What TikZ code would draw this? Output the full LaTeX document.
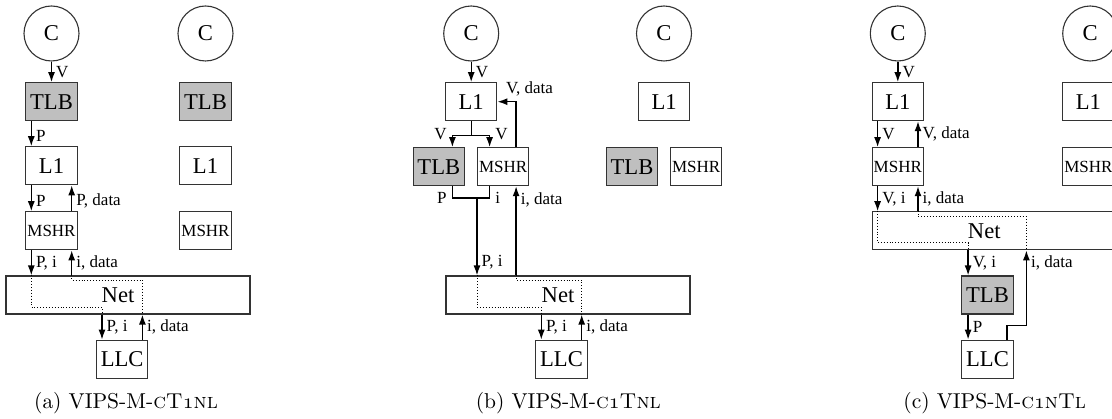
\documentclass[tikz,border=0pt]{standalone}
\usepackage{fontspec}
\newfontfamily\tms{Liberation Serif}
\usetikzlibrary{arrows.meta,calc}
\newcommand\boxfont{\tms\fontsize{22.6}{26}\selectfont}
\newcommand\msfont{\tms\fontsize{17}{20}\selectfont}
\newcommand\lblfont{\tms\fontsize{17}{19}\selectfont}
\font\caprm=cmr10 at 21.5pt
\font\capsc=cmcsc10 at 21.5pt
\font\capos=cmmi10 at 21.5pt
\newcommand\capfont{\caprm}
\newcommand\osone{{\capos\char49}}
\begin{document}
\begin{tikzpicture}[x=1pt,y=-1pt,
 bx/.style={draw=black!80, line width=1.1pt, minimum width=51.3pt, minimum height=38pt, inner sep=0pt, font=\boxfont},
 tlbbox/.style={bx, fill=black!25},
 msbox/.style={bx, font=\msfont},
 cpu/.style={circle, draw=black!80, line width=1.1pt, minimum size=55pt, inner sep=0pt, font=\boxfont},
 netbox/.style={bx, minimum width=244pt},
 nettext/.style={font=\boxfont, inner sep=0pt},
 arr/.style={line width=1.4pt, -{Latex[length=10pt,width=7pt]}},
 wire/.style={line width=1.4pt},
 dots/.style={dotted, line width=0.9pt},
 lbl/.style={font=\lblfont, inner sep=1pt},
 lblr/.style={lbl, anchor=west, xshift=3pt},
 capt/.style={font=\capfont, inner sep=0pt}
]
\useasboundingbox (0,0) rectangle (1112,419);
\clip (0,0) rectangle (1112,419);

% ---------------- panel (a)
\node[cpu] (ca) at (51.5,33.5) {C};
\node[tlbbox] (tlba) at (51.5,101.7) {TLB};
\node[bx] (l1a) at (51.5,165.8) {L1};
\node[msbox] (msa) at (51.5,230.8) {MSHR};
\node[netbox] (neta) at (128,295) {};
\node[nettext] (netat) at ([xshift=-10pt]neta.center) {Net};
\node[bx] (llca) at (122.2,359.2) {LLC};

\node[cpu] (ca2) at (205.5,33.5) {C};
\node[tlbbox] (tlba2) at (205.5,101.7) {TLB};
\node[bx] (l1a2) at (205.5,165.8) {L1};
\node[msbox] (msa2) at (205.5,230.8) {MSHR};

\coordinate (aL) at ([xshift=6pt]tlba.south west);
\coordinate (aR) at ([xshift=-6pt]tlba.south east);
\coordinate (aLL) at ([xshift=6pt]llca.north west);
\coordinate (aLR) at ([xshift=-6pt]llca.north east);

\draw[arr] (ca) -- node[lblr]{V} (tlba);
\draw[arr] (aL) -- node[lblr, pos=0.6]{P} (aL |- l1a.north);
\draw[arr] (aL |- l1a.south) -- node[lblr, pos=0.6]{P} (aL |- msa.north);
\draw[arr] (aR |- msa.north) -- node[lblr, pos=0.4]{P, data} (aR |- l1a.south);
\draw[arr] (aL |- msa.south) -- node[lblr]{P, i} (aL |- neta.north);
\draw[arr] (aR |- neta.north) -- node[lblr]{i, data} (aR |- msa.south);
\draw[arr] (aLL |- neta.south) -- node[lblr]{P, i} (aLL);
\draw[arr] (aLR) -- node[lblr]{i, data} (aLR |- neta.south);
\draw[dots] (aL |- neta.north) -- ++(0,31.7) -| (aLL |- neta.south);
\draw[dots] (aR |- neta.north) -- ++(0,4.7) -| (aLR |- neta.south);

\node[capt] (capa) at (126,403) {(a) VIPS-M-{\capsc cT\osone nl}};

% ---------------- panel (b)
\node[cpu] (cb) at (471.2,33.5) {C};
\node[bx] (l1b) at (471.2,101.7) {L1};
\node[tlbbox] (tlbb) at (438.8,166.7) {TLB};
\node[msbox] (msb) at (503.2,166.7) {MSHR};
\node[netbox] (netb) at (568,295) {};
\node[nettext] (netbt) at ([xshift=-10pt]netb.center) {Net};
\node[bx] (llcb) at (561.5,359.2) {LLC};

\node[cpu] (cb2) at (664,33.5) {C};
\node[bx] (l1b2) at (664.2,101.7) {L1};
\node[tlbbox] (tlbb2) at (632,166.7) {TLB};
\node[msbox] (msb2) at (696.2,166.7) {MSHR};

\coordinate (bf) at ([yshift=-14.3pt]l1b.south);
\coordinate (btl) at ([xshift=-12.6pt]tlbb.north east);
\coordinate (bms) at ([xshift=12.6pt]msb.north west);
\coordinate (bmr) at ([xshift=-13.3pt]msb.north east);
\coordinate (bbl) at ([xshift=-12.6pt]tlbb.south east);
\coordinate (bbm) at ([xshift=12.6pt]msb.south west);
\coordinate (bLL) at ([xshift=6pt]llcb.north west);
\coordinate (bLR) at ([xshift=-6pt]llcb.north east);

\draw[arr] (cb) -- node[lblr]{V} (l1b);
\draw[wire] (l1b.south) -- (bf);
\draw[arr] (bf) -| node[pos=0.5, lbl, anchor=east, xshift=-4pt, yshift=1pt]{V} (btl);
\draw[arr] (bf) -| node[pos=0.5, lbl, anchor=west, xshift=4pt, yshift=1pt]{V} (bms);
\draw[arr] (bmr) |- node[pos=0.5, lbl, anchor=base west, xshift=-11.7pt, yshift=8pt]{V, data} (l1b.east);
\draw[wire] (bbl) -- ++(0,11.6) coordinate (bj) node[lbl, anchor=east, xshift=-4pt]{P}
   -| node[pos=0.5, lbl, anchor=west, xshift=4pt]{i} (bbm);
\draw[arr] (msb.south west |- bj) -- node[lblr, pos=0.83]{P, i} (msb.south west |- netb.north);
\draw[arr] (bmr |- netb.north) -- node[lblr, pos=0.85]{i, data} (bmr |- msb.south);
\draw[arr] (bLL |- netb.south) -- node[lblr]{P, i} (bLL);
\draw[arr] (bLR) -- node[lblr]{i, data} (bLR |- netb.south);
\draw[dots] (msb.south west |- netb.north) -- ++(0,31.7) -| (bLL |- netb.south);
\draw[dots] (bmr |- netb.north) -- ++(0,4.7) -| (bLR |- netb.south);

\node[capt] (capb) at (568.3,403) {(b) VIPS-M-{\capsc c\osone Tnl}};

% ---------------- panel (c)
\node[cpu] (cc) at (897.8,33.5) {C};
\node[bx] (l1c) at (897.8,101.7) {L1};
\node[msbox] (msc) at (897.8,166.7) {MSHR};
\node[netbox] (netc) at (994.3,230.8) {};
\node[nettext] (netct) at ([xshift=-10pt]netc.center) {Net};
\node[tlbbox] (tlbc) at (987.5,295) {TLB};
\node[bx] (llcc) at (987.5,359.2) {LLC};

\node[cpu] (cc2) at (1090.2,33.5) {C};
\node[bx] (l1c2) at (1088.4,101.7) {L1};
\node[msbox] (msc2) at (1088.4,166.7) {MSHR};

\coordinate (cL) at ([xshift=6pt]l1c.south west);
\coordinate (cR) at ([xshift=-6pt]l1c.south east);
\coordinate (cTL) at ([xshift=6.8pt]tlbc.north west);
\coordinate (cLU) at ([xshift=-6.6pt]llcc.north east);
\coordinate (cUp) at ([xshift=12.7pt]llcc.north east);

\draw[arr] (cc) -- node[lblr]{V} (l1c);
\draw[arr] (cL) -- node[lblr]{V} (cL |- msc.north);
\draw[arr] (cR |- msc.north) -- node[lblr]{V, data} (cR);
\draw[arr] (cL |- msc.south) -- node[lblr]{V, i} (cL |- netc.north);
\draw[arr] (cR |- netc.north) -- node[lblr]{i, data} (cR |- msc.south);
\draw[arr] (cTL |- netc.south) -- node[lblr]{V, i} (cTL);
\draw[arr] (cTL |- tlbc.south) -- node[lblr]{P} (cTL |- llcc.north);
\draw[arr] (cLU) -- ++(0,-14) -| node[pos=0.915, lblr]{i, data} (cUp |- netc.south);
\draw[dots] (cL |- netc.north) -- ++(0,31.6) -| (cTL |- netc.south);
\draw[dots] (cR |- netc.north) -- ++(0,5.6) -| (cUp |- netc.south);

\node[capt] (capc) at (994.7,403) {(c) VIPS-M-{\capsc c\osone nTl}};
\end{tikzpicture}
\end{document}
